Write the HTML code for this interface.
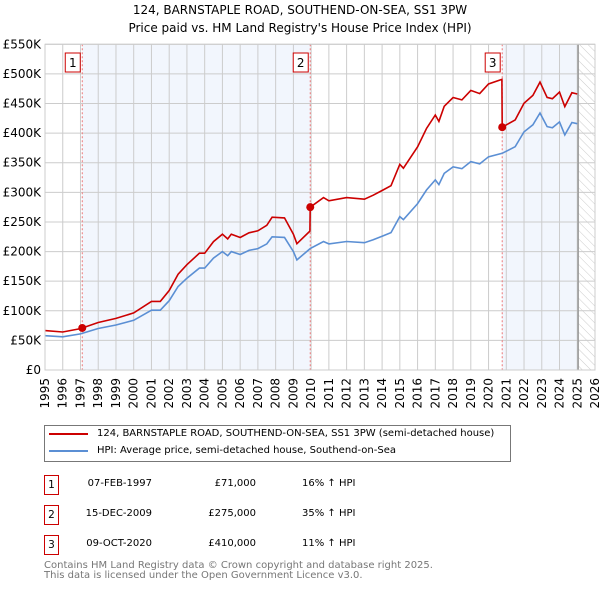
<!DOCTYPE html>
<html><head><meta charset="utf-8"><style>
body{margin:0;background:#fff;font-family:"DejaVu Sans","Liberation Sans",sans-serif;}
#wrap{position:relative;width:600px;height:590px;overflow:hidden}
.t{position:absolute;font-size:10px;color:#000;white-space:nowrap}
.tt{position:absolute;font-size:12px;color:#000;white-space:nowrap}
.box{position:absolute;width:13px;height:18px;border:1px solid #c00;font-size:10.5px;text-align:center;line-height:18px}
</style></head><body><div id="wrap">
<div class="tt" style="left:0;width:600px;text-align:center;top:3px">124, BARNSTAPLE ROAD, SOUTHEND-ON-SEA, SS1 3PW</div>
<div class="tt" style="left:0;width:600px;text-align:center;top:21px">Price paid vs. HM Land Registry's House Price Index (HPI)</div>
<svg id="chart" width="600" height="420" style="position:absolute;left:0;top:0"></svg>
<div style="position:absolute;left:44px;top:425px;width:465px;height:35px;border:1px solid #777"></div>
<div style="position:absolute;left:49px;top:433px;width:39px;height:2px;background:#c00"></div>
<div class="t" style="left:97px;top:428px">124, BARNSTAPLE ROAD, SOUTHEND-ON-SEA, SS1 3PW (semi-detached house)</div>
<div style="position:absolute;left:49px;top:450px;width:39px;height:2px;background:#5b8fd4"></div>
<div class="t" style="left:97px;top:445px">HPI: Average price, semi-detached house, Southend-on-Sea</div>
<div class="box" style="left:44px;top:475px">1</div>
<div class="t" style="right:448px;top:478px">07-FEB-1997</div>
<div class="t" style="right:344px;top:478px">£71,000</div>
<div class="t" style="left:302px;top:478px">16% ↑ HPI</div>
<div class="box" style="left:44px;top:505px">2</div>
<div class="t" style="right:448px;top:508px">15-DEC-2009</div>
<div class="t" style="right:344px;top:508px">£275,000</div>
<div class="t" style="left:302px;top:508px">35% ↑ HPI</div>
<div class="box" style="left:44px;top:535px">3</div>
<div class="t" style="right:448px;top:538px">09-OCT-2020</div>
<div class="t" style="right:344px;top:538px">£410,000</div>
<div class="t" style="left:302px;top:538px">11% ↑ HPI</div>
<div class="t" style="left:44px;top:561px;color:#777;line-height:10px">Contains HM Land Registry data © Crown copyright and database right 2025.<br>This data is licensed under the Open Government Licence v3.0.</div>
</div>
<script>
const hpiYears=[1995,1996,1997,1998,1999,2000,2001,2001.5,2002,2002.5,2003,2003.7,2004,2004.5,2005,2005.3,2005.5,2006,2006.5,2007,2007.5,2007.8,2008.5,2009,2009.2,2009.95,2010.7,2011,2012,2013,2013.5,2014,2014.5,2015,2015.2,2016,2016.5,2017,2017.2,2017.5,2018,2018.5,2019,2019.5,2020,2020.77,2021.5,2022,2022.5,2022.9,2023.3,2023.6,2024,2024.3,2024.7,2025];
const hpiValues=[58,56,61,70,76,84,101,101,117,141,155,172,172,189,200,193,200,195,202,205,213,225,224,200,186,205,217,213,217,215,220,226,232,259,254,281,304,321,313,332,343,340,352,348,360,366,377,402,414,434,411,409,419,397,418,416];
const saleDates=[1997.1,2009.95,2020.77];
const salePrices=[71,275,410];
const saleLabels=["1","2","3"];
const yTicks=[0,50,100,150,200,250,300,350,400,450,500,550];
const yTickLabels=["£0","£50K","£100K","£150K","£200K","£250K","£300K","£350K","£400K","£450K","£500K","£550K"];
const xTicks=[1995,1996,1997,1998,1999,2000,2001,2002,2003,2004,2005,2006,2007,2008,2009,2010,2011,2012,2013,2014,2015,2016,2017,2018,2019,2020,2021,2022,2023,2024,2025,2026];
const X0=45,X1=595,Y0=370,Y1=44.3;
const sx=v=>X0+(v-1995)/(2026-1995)*(X1-X0);
const sy=v=>Y0-v/550*(Y0-Y1);
const svg=document.getElementById('chart');const NS='http://www.w3.org/2000/svg';
function mk(t,a,p){const e=document.createElementNS(NS,t);for(const k in a)e.setAttribute(k,a[k]);(p||svg).appendChild(e);return e;}
function hpiAt(t){for(let i=0;i<hpiYears.length-1;i++){if(t>=hpiYears[i]&&t<=hpiYears[i+1]){const f=(t-hpiYears[i])/(hpiYears[i+1]-hpiYears[i]);return hpiValues[i]+f*(hpiValues[i+1]-hpiValues[i]);}}return hpiValues[hpiValues.length-1];}
let e;
e=mk('defs',{});e.innerHTML='<pattern id="hatch" width="6" height="6" patternUnits="userSpaceOnUse" patternTransform="rotate(-45)"><line x1="0" y1="0" x2="0" y2="6" stroke="#ccc" stroke-width="1"/></pattern>';
e=mk('rect',{x:sx(saleDates[0]),y:Y1,width:sx(saleDates[1])-sx(saleDates[0]),height:Y0-Y1,fill:'#f2f6fd'});

e=mk('rect',{x:sx(saleDates[2]),y:Y1,width:sx(2025.05)-sx(saleDates[2]),height:Y0-Y1,fill:'#f2f6fd'});

e=mk('rect',{x:sx(2025.05),y:Y1,width:X1-sx(2025.05),height:Y0-Y1,fill:'url(#hatch)'});

xTicks.forEach(t=>{e=mk('line',{x1:sx(t),x2:sx(t),y1:Y1,y2:Y0,stroke:'#ccc'});
 e=mk('text',{x:0,y:0,transform:`translate(${sx(t)+4},${Y0+8}) rotate(-90)`,'text-anchor':'end','font-size':12,'font-family':'DejaVu Sans,sans-serif'});e.textContent=t;});
yTicks.forEach((t,i)=>{e=mk('line',{x1:X0,x2:X1,y1:sy(t),y2:sy(t),stroke:'#ccc'});
 e=mk('text',{x:41,y:sy(t)+4,'text-anchor':'end','font-size':12,'font-family':'DejaVu Sans,sans-serif'});e.textContent=yTickLabels[i];});
e=mk('line',{x1:sx(2025.05),x2:sx(2025.05),y1:Y1,y2:Y0,stroke:'#999','stroke-width':1.5});
saleDates.forEach((d,i)=>{e=mk('line',{x1:sx(d),x2:sx(d),y1:Y1,y2:Y0,stroke:'#e77','stroke-dasharray':'2,2'});});
let p='';hpiYears.forEach((y,i)=>{p+=(i?'L':'M')+sx(y).toFixed(1)+','+sy(hpiValues[i]).toFixed(1);});
e=mk('path',{d:p,fill:'none',stroke:'#5b8fd4','stroke-width':1.6});
const ratios=saleDates.map((d,i)=>salePrices[i]/hpiAt(d));
function ratioAt(t){let r=ratios[0];for(let i=0;i<saleDates.length;i++)if(t>=saleDates[i])r=ratios[i];return r;}
let pts=hpiYears.concat(saleDates.slice(1).map(d=>d-0.02),saleDates.slice(1)).sort((a,b)=>a-b);
p='';pts.forEach((t,i)=>{p+=(i?'L':'M')+sx(t).toFixed(1)+','+sy(hpiAt(t)*ratioAt(t)).toFixed(1);});
e=mk('path',{d:p,fill:'none',stroke:'#c00','stroke-width':1.6});
saleDates.forEach((d,i)=>{e=mk('circle',{cx:sx(d),cy:sy(salePrices[i]),r:4,fill:'#c00'});
 const bx=sx(d)-9;
 e=mk('rect',{x:bx-8,y:53,width:15,height:19,fill:'#fff',stroke:'#c00'});
 e=mk('text',{x:bx-0.5,y:67,'text-anchor':'middle','font-size':12,'font-family':'DejaVu Sans,sans-serif'});e.textContent=saleLabels[i];});
e=mk('rect',{x:X0,y:Y1,width:X1-X0,height:Y0-Y1,fill:'none',stroke:'#ccc'});
</script></body></html>
